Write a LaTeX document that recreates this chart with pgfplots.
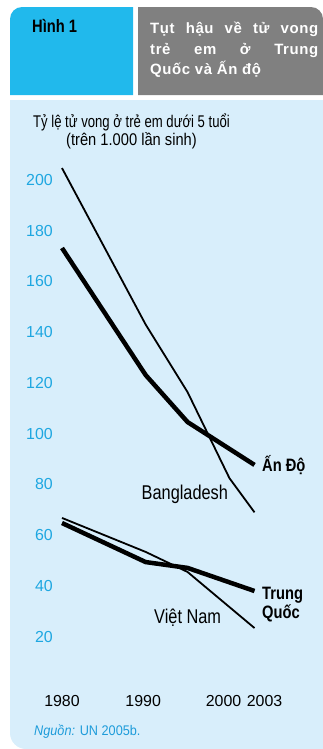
\documentclass[border=0pt]{standalone}
\usepackage{fontspec}
\setmainfont{Liberation Sans}
\newfontfamily\narrow[FakeStretch=0.82]{Liberation Sans}
\newfontfamily\hdr[LetterSpace=4]{Liberation Sans}
\usepackage{graphicx}
\usepackage{pgfplots}
\pgfplotsset{compat=1.18}
\definecolor{tickblue}{HTML}{1EA7E1}
\definecolor{srcblue}{HTML}{1E9CDA}
\definecolor{hblue}{HTML}{21B9EC}
\definecolor{hgray}{HTML}{808080}
\definecolor{panel}{HTML}{D8EEFB}
\begin{document}
\begin{tikzpicture}
\path[use as bounding box] (0,0) rectangle (323bp,-749bp);
\fill[panel] (10bp,-100bp) -- (323bp,-100bp) -- (323bp,-749bp) -- (26bp,-749bp) arc[start angle=270,end angle=180,radius=16bp] -- cycle;
\fill[hblue] (10bp,-95bp) -- (10bp,-19bp) arc[start angle=180,end angle=90,radius=12bp] -- (133bp,-7bp) -- (133bp,-95bp) -- cycle;
\fill[hgray] (138bp,-95bp) -- (138bp,-7bp) -- (311bp,-7bp) arc[start angle=90,end angle=0,radius=12bp] -- (323bp,-95bp) -- cycle;

\node[anchor=base west, inner sep=0pt] at (32bp,-32bp) {\fontsize{18}{20}\narrow\bfseries Hình 1};
\node[anchor=base west, inner sep=0pt, text=white] at (150bp,-33bp) {\fontsize{15}{18}\hdr\bfseries\makebox[168bp][s]{Tụt hậu về tử vong}};
\node[anchor=base west, inner sep=0pt, text=white] at (150bp,-54bp) {\fontsize{15}{18}\hdr\bfseries\makebox[168bp][s]{trẻ em ở Trung}};
\node[anchor=base west, inner sep=0pt, text=white] at (150bp,-74bp) {\fontsize{15}{18}\hdr\bfseries Quốc và Ấn độ};

\node[anchor=base, inner sep=0pt] at (131.5bp,-127bp) {\fontsize{17}{20}\selectfont\scalebox{0.775}[1]{Tỷ lệ tử vong ở trẻ em dưới 5 tuổi}};
\node[anchor=base, inner sep=0pt] at (131.5bp,-145bp) {\fontsize{17}{20}\selectfont\scalebox{0.867}[1]{(trên 1.000 lần sinh)}};

\begin{axis}[
 at={(62bp,-687.4bp)}, anchor=south west,
 scale only axis, width=209.25bp, height=507.4bp,
 xmin=1980, xmax=2005, ymin=0, ymax=200,
 clip=false,
 axis line style={draw=none},
 major tick length=0pt,
 ytick={20,40,60,80,100,120,140,160,180,200},
 yticklabels={20,40,60,80,100,120,140,160,180,200},
 yticklabel style={anchor=east, inner sep=0pt, xshift=-9bp, font=\fontsize{16}{18}\selectfont, text=tickblue},
 xtick={1980,1989.7,1999.3,2004.2},
 xticklabels={1980,1990,2000,2003},
 xticklabel style={anchor=north, inner sep=0pt, yshift=-8bp, font=\fontsize{16}{18}\selectfont},
]
\addplot[black, line width=1.8bp, line join=round] coordinates {(1980,204.7)(1990,143)(1995,116.4)(2000,82.5)(2003,69)};
\addplot[black, line width=4.5bp, line join=round] coordinates {(1980,173.2)(1990,123.1)(1995,104.6)(2003,87.7)};
\addplot[black, line width=1.8bp, line join=round] coordinates {(1980,66.8)(1990,53.4)(1995,45.5)(2003,23.4)};
\addplot[black, line width=4.5bp, line join=round] coordinates {(1980,64.8)(1990,49.4)(1995,47.1)(2003,38)};
\end{axis}

\node[anchor=base west, inner sep=0pt] at (262bp,-471bp) {\fontsize{18}{20}\narrow\bfseries Ấn Độ};
\node[anchor=base west, inner sep=0pt] at (141.5bp,-499bp) {\fontsize{20}{22}\narrow Bangladesh};
\node[anchor=base west, inner sep=0pt] at (154bp,-623bp) {\fontsize{20}{22}\narrow Việt Nam};
\node[anchor=base west, inner sep=0pt] at (262bp,-599bp) {\fontsize{18}{20}\narrow\bfseries Trung};
\node[anchor=base west, inner sep=0pt] at (262bp,-618bp) {\fontsize{18}{20}\narrow\bfseries Quốc};
\node[anchor=base west, inner sep=0pt] at (34bp,-735bp) {\fontsize{14}{16}\selectfont\color{srcblue}\scalebox{0.91}[1]{\textit{Nguồn:} UN 2005b.}};
\end{tikzpicture}
\end{document}
